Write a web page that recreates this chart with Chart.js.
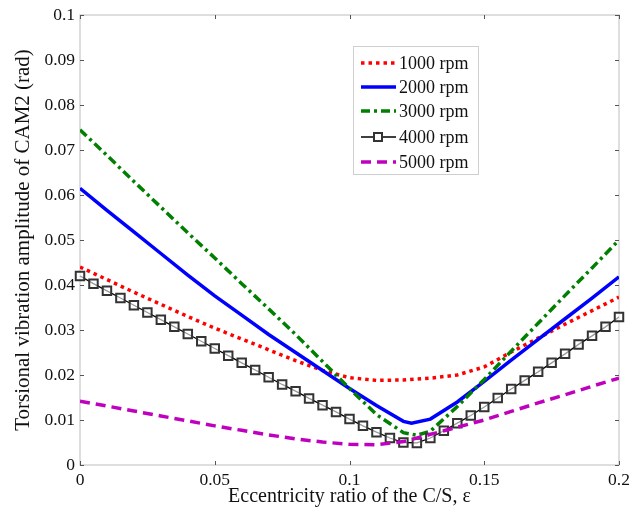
<!DOCTYPE html>
<html lang="en">
<head>
    <meta charset="UTF-8">
    <title>Torsional vibration amplitude of CAM2</title>
    <script src="https://cdn.jsdelivr.net/npm/chart.js"></script>
    <style>
        body {
            margin: 0;
            background-color: #fff;
        }
        #wrap {
            width: 630px;
            height: 513px;
        }
    </style>
</head>
<body>

    <div id="wrap"><canvas id="myChart" width="630" height="513"></canvas></div>

    <script>
        // series labels
        const seriesNames = ['1000 rpm', '2000 rpm', '3000 rpm', '4000 rpm', '5000 rpm'];

        // eccentricity ratio (x) per series
        const xStd = [0, 0.01, 0.02, 0.03, 0.04, 0.05, 0.06, 0.07, 0.08, 0.09, 0.10,
                      0.11, 0.12, 0.13, 0.14, 0.15, 0.16, 0.17, 0.18, 0.19, 0.20];
        const xBlue = [0, 0.01, 0.02, 0.03, 0.04, 0.05, 0.06, 0.07, 0.08, 0.09, 0.10,
                       0.11, 0.12, 0.123, 0.13, 0.14, 0.15, 0.16, 0.17, 0.18, 0.19, 0.20];
        const xGreen = [0, 0.01, 0.02, 0.03, 0.04, 0.05, 0.06, 0.07, 0.08, 0.09, 0.10,
                        0.11, 0.12, 0.125, 0.13, 0.14, 0.15, 0.16, 0.17, 0.18, 0.19, 0.20];
        const xMarked = [0, 0.005, 0.01, 0.015, 0.02, 0.025, 0.03, 0.035, 0.04, 0.045, 0.05,
                         0.055, 0.06, 0.065, 0.07, 0.075, 0.08, 0.085, 0.09, 0.095, 0.10,
                         0.105, 0.11, 0.115, 0.12, 0.125, 0.13, 0.135, 0.14, 0.145, 0.15,
                         0.155, 0.16, 0.165, 0.17, 0.175, 0.18, 0.185, 0.19, 0.195, 0.20];

        // amplitudes (rad)
        const rpm1000 = [0.0440, 0.0412, 0.0384, 0.0357, 0.0330, 0.0304, 0.0280, 0.0256, 0.0232, 0.0210, 0.0194,
                         0.0188, 0.0189, 0.0193, 0.0200, 0.0218, 0.0251, 0.0282, 0.0313, 0.0343, 0.0373];
        const rpm2000 = [0.0615, 0.0566, 0.0518, 0.0470, 0.0422, 0.0376, 0.0333, 0.0290, 0.0250, 0.0210, 0.0170,
                         0.0132, 0.0097, 0.0093, 0.0102, 0.0140, 0.0186, 0.0233, 0.0279, 0.0325, 0.0371, 0.0418];
        const rpm3000 = [0.0745, 0.0688, 0.0630, 0.0573, 0.0516, 0.0460, 0.0403, 0.0347, 0.0290, 0.0230, 0.0170,
                         0.0112, 0.0072, 0.0066, 0.0075, 0.0130, 0.0190, 0.0253, 0.0315, 0.0377, 0.0438, 0.0500];
        const rpm4000 = [0.0420, 0.0403, 0.0387, 0.0371, 0.0355, 0.0339, 0.0323, 0.0307, 0.0291, 0.0275, 0.0259,
                         0.0243, 0.0227, 0.0211, 0.0195, 0.0179, 0.0164, 0.0148, 0.0133, 0.0118, 0.0102,
                         0.0087, 0.0073, 0.0060, 0.0050, 0.0049, 0.0060, 0.0076, 0.0093, 0.0110, 0.0129,
                         0.0149, 0.0169, 0.0188, 0.0207, 0.0227, 0.0247, 0.0268, 0.0287, 0.0307, 0.0329];
        const rpm5000 = [0.0142, 0.0131, 0.0120, 0.0109, 0.0098, 0.0087, 0.0077, 0.0067, 0.0058, 0.0051, 0.0046,
                         0.0045, 0.0052, 0.0068, 0.0084, 0.0100, 0.0119, 0.0138, 0.0156, 0.0175, 0.0193];

        // axis ticks
        const xTicks = [0, 0.05, 0.1, 0.15, 0.2];
        const yTicks = [0, 0.01, 0.02, 0.03, 0.04, 0.05, 0.06, 0.07, 0.08, 0.09, 0.1];

        const serif = "'Liberation Serif', 'Times New Roman', serif";

        function pts(xs, ys) {
            return xs.map((x, i) => ({ x: x, y: ys[i] }));
        }

        // box around plot + small inward tick marks (matlab style)
        const boxPlugin = {
            id: 'box',
            beforeDatasetsDraw(chart) {
                const { ctx, chartArea: a, scales } = chart;
                ctx.save();
                ctx.strokeStyle = '#d4d4d4';
                ctx.lineWidth = 1.5;
                ctx.strokeRect(a.left, a.top, a.right - a.left, a.bottom - a.top);
                ctx.strokeStyle = '#555';
                ctx.lineWidth = 1;
                xTicks.forEach(v => {
                    const px = Math.round(scales.x.getPixelForValue(v)) + 0.5;
                    ctx.beginPath();
                    ctx.moveTo(px, a.bottom); ctx.lineTo(px, a.bottom - 4);
                    ctx.moveTo(px, a.top); ctx.lineTo(px, a.top + 4);
                    ctx.stroke();
                });
                yTicks.forEach(v => {
                    const py = Math.round(scales.y.getPixelForValue(v)) + 0.5;
                    ctx.beginPath();
                    ctx.moveTo(a.left, py); ctx.lineTo(a.left + 4, py);
                    ctx.moveTo(a.right, py); ctx.lineTo(a.right - 4, py);
                    ctx.stroke();
                });
                ctx.restore();
            }
        };

        // legend box inside the plot
        const legendPlugin = {
            id: 'innerLegend',
            afterDraw(chart) {
                const ctx = chart.ctx;
                const bx = 353, by = 46, bw = 125, bh = 128;
                const rows = [63, 87, 111, 137, 162];
                ctx.save();
                ctx.fillStyle = '#fff';
                ctx.fillRect(bx, by, bw, bh);
                ctx.strokeStyle = '#cfcfcf';
                ctx.lineWidth = 1;
                ctx.strokeRect(bx + 0.5, by + 0.5, bw, bh);
                chart.data.datasets.forEach((ds, i) => {
                    const yy = rows[i];
                    ctx.strokeStyle = ds.borderColor;
                    ctx.lineWidth = ds.borderWidth;
                    ctx.setLineDash(ds.borderDash || []);
                    ctx.beginPath();
                    ctx.moveTo(361, yy);
                    ctx.lineTo(396, yy);
                    ctx.stroke();
                    ctx.setLineDash([]);
                    if (ds.pointRadius > 0) {
                        ctx.fillStyle = '#fff';
                        ctx.strokeStyle = '#333';
                        ctx.lineWidth = 2;
                        ctx.fillRect(374, yy - 4, 8, 8);
                        ctx.strokeRect(374, yy - 4, 8, 8);
                    }
                    ctx.fillStyle = '#111';
                    ctx.font = "18px " + serif;
                    ctx.textBaseline = 'middle';
                    ctx.fillText(ds.label, 399, yy + 1);
                });
                ctx.restore();
            }
        };

        const ctx = document.getElementById('myChart').getContext('2d');
        const myChart = new Chart(ctx, {
            type: 'line',
            data: {
                datasets: [
                    {
                        label: seriesNames[0],
                        data: pts(xStd, rpm1000),
                        borderColor: '#ff0000',
                        borderWidth: 3.5,
                        borderDash: [3.5, 4],
                        pointRadius: 0,
                        order: 5
                    },
                    {
                        label: seriesNames[1],
                        data: pts(xBlue, rpm2000),
                        borderColor: '#0000ff',
                        borderWidth: 3.5,
                        pointRadius: 0,
                        order: 4
                    },
                    {
                        label: seriesNames[2],
                        data: pts(xGreen, rpm3000),
                        borderColor: '#007f00',
                        borderWidth: 3.5,
                        borderDash: [9, 4, 3, 4],
                        pointRadius: 0,
                        order: 3
                    },
                    {
                        label: seriesNames[3],
                        data: pts(xMarked, rpm4000),
                        borderColor: '#000',
                        borderWidth: 1.3,
                        pointStyle: 'rect',
                        pointRadius: 6,
                        pointBorderWidth: 2,
                        pointBorderColor: '#333',
                        pointBackgroundColor: 'rgba(255,255,255,0.6)',
                        clip: false,
                        order: 2
                    },
                    {
                        label: seriesNames[4],
                        data: pts(xStd, rpm5000),
                        borderColor: '#bf00bf',
                        borderWidth: 3.5,
                        borderDash: [10, 6],
                        pointRadius: 0,
                        order: 1
                    }
                ]
            },
            options: {
                responsive: false,
                animation: false,
                layout: { padding: { top: 15, right: 11, left: 0, bottom: 0 } },
                plugins: {
                    legend: { display: false },
                    tooltip: { enabled: false }
                },
                elements: { line: { tension: 0 } },
                scales: {
                    x: {
                        type: 'linear',
                        min: 0,
                        max: 0.2,
                        border: { display: false },
                        grid: { display: false, drawTicks: false },
                        afterBuildTicks: (s) => { s.ticks = xTicks.map(v => ({ value: v })); },
                        afterFit: (s) => { s.height = 48; s.paddingLeft = 0; s.paddingRight = 0; },
                        ticks: {
                            color: '#111',
                            padding: 5,
                            font: { family: serif, size: 17.5 },
                            callback: (v) => String(+v.toFixed(2))
                        },
                        title: {
                            display: true,
                            text: 'Eccentricity ratio of the C/S, ε',
                            color: '#111',
                            font: { family: serif, size: 20 },
                            padding: { top: 0, bottom: 4 }
                        }
                    },
                    y: {
                        min: 0,
                        max: 0.1,
                        border: { display: false },
                        grid: { display: false, drawTicks: false },
                        afterBuildTicks: (s) => { s.ticks = yTicks.map(v => ({ value: v })); },
                        afterFit: (s) => { s.width = 80; s.paddingTop = 0; s.paddingBottom = 0; },
                        ticks: {
                            color: '#111',
                            padding: 5,
                            font: { family: serif, size: 17.5 },
                            callback: (v) => String(+v.toFixed(2))
                        },
                        title: {
                            display: true,
                            text: 'Torsional vibration amplitude of CAM2 (rad)',
                            color: '#111',
                            font: { family: serif, size: 21 },
                            padding: { top: 11, bottom: 0 }
                        }
                    }
                }
            },
            plugins: [boxPlugin, legendPlugin]
        });
    </script>

</body>
</html>
